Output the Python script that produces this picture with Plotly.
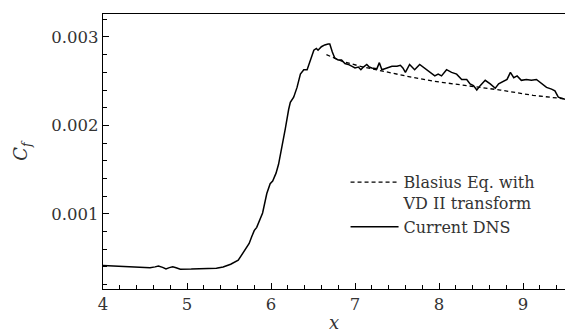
import plotly.graph_objects as go

dns_x = [4.00, 4.20, 4.40, 4.56, 4.62, 4.66, 4.71, 4.75, 4.79, 4.83, 4.87, 4.92, 5.05, 5.23, 5.35,
         5.43, 5.52, 5.61, 5.65, 5.69, 5.74, 5.77, 5.80, 5.83, 5.87, 5.90, 5.95, 5.99, 6.02, 6.06,
         6.09, 6.13, 6.17, 6.21, 6.23, 6.27, 6.31, 6.35, 6.39, 6.43, 6.46, 6.51, 6.54, 6.56, 6.60,
         6.64, 6.68, 6.70, 6.73, 6.76, 6.80, 6.84, 6.88, 6.92, 6.96, 7.00, 7.04, 7.07, 7.10, 7.14,
         7.17, 7.20, 7.26, 7.29, 7.32, 7.38, 7.44, 7.50, 7.54, 7.57, 7.60, 7.65, 7.71, 7.77, 7.83,
         7.89, 7.95, 7.99, 8.03, 8.09, 8.15, 8.21, 8.27, 8.33, 8.37, 8.41, 8.45, 8.49, 8.55, 8.61,
         8.67, 8.71, 8.77, 8.81, 8.85, 8.89, 8.93, 8.98, 9.04, 9.10, 9.16, 9.22, 9.28, 9.34, 9.38,
         9.42, 9.48, 9.52]
dns_cf = [0.000417, 0.000410, 0.000398, 0.000391, 0.000400, 0.000410, 0.000395, 0.000377, 0.000392,
          0.000402, 0.000390, 0.000374, 0.000375, 0.000377, 0.000385, 0.000399, 0.000430, 0.000475,
          0.000530, 0.000592, 0.000665, 0.000740, 0.000810, 0.000847, 0.000930, 0.001010, 0.001230,
          0.001340, 0.001370, 0.001460, 0.001560, 0.001740, 0.001960, 0.002180, 0.002260, 0.002320,
          0.002430, 0.002580, 0.002630, 0.002630, 0.002720, 0.002850, 0.002870, 0.002850, 0.002890,
          0.002910, 0.002920, 0.002920, 0.002830, 0.002760, 0.002740, 0.002740, 0.002700, 0.002690,
          0.002670, 0.002650, 0.002660, 0.002630, 0.002660, 0.002690, 0.002660, 0.002650, 0.002640,
          0.002710, 0.002630, 0.002650, 0.002670, 0.002670, 0.002680, 0.002650, 0.002600, 0.002690,
          0.002630, 0.002690, 0.002650, 0.002610, 0.002560, 0.002580, 0.002560, 0.002630, 0.002600,
          0.002580, 0.002520, 0.002520, 0.002470, 0.002450, 0.002400, 0.002450, 0.002510, 0.002470,
          0.002420, 0.002470, 0.002500, 0.002520, 0.002600, 0.002540, 0.002560, 0.002510, 0.002520,
          0.002510, 0.002520, 0.002470, 0.002430, 0.002410, 0.002390, 0.002320, 0.002300, 0.002290]

blasius_x = [6.66, 6.86, 7.10, 7.34, 7.60, 7.93, 8.33, 8.73, 9.12, 9.50]
blasius_cf = [0.00280, 0.00272, 0.00266, 0.00261, 0.00256, 0.00250, 0.00245, 0.00240, 0.00234, 0.00230]

x_ticks = [4, 5, 6, 7, 8, 9]
y_ticks = [0.001, 0.002, 0.003]
y_ticklabels = ["0.001", "0.002", "0.003"]

FONT = "DejaVu Serif"

fig = go.Figure()
fig.add_trace(go.Scatter(
    x=blasius_x, y=blasius_cf, mode="lines",
    name="Blasius Eq. with<br>VD II transform",
    line=dict(color="black", width=1.3, dash="4px,3px"),
))
fig.add_trace(go.Scatter(
    x=dns_x, y=dns_cf, mode="lines", name="Current DNS",
    line=dict(color="black", width=1.5),
))

fig.update_layout(
    width=565, height=333,
    margin=dict(l=103, r=0, t=14, b=35),
    paper_bgcolor="white", plot_bgcolor="white",
    font=dict(family=FONT, size=16.5, color="#333"),
    showlegend=True,
    legend=dict(x=0.525, y=0.45, xanchor="left", yanchor="top",
                bgcolor="rgba(0,0,0,0)", font=dict(size=16, family=FONT),
                valign="top", tracegroupgap=4, itemwidth=48),
    xaxis=dict(
        range=[4, 9.5], tickvals=x_ticks, ticks="inside", ticklen=6, tickwidth=1,
        tickcolor="black", showline=True, linecolor="black", linewidth=1.3,
        mirror=True, showgrid=False, zeroline=False,
        minor=dict(dtick=0.2, ticks="inside", ticklen=3.5, tickwidth=1, tickcolor="black"),
        title=dict(text="<i>x</i>", font=dict(size=18, family=FONT), standoff=6),
    ),
    yaxis=dict(
        range=[0.00015, 0.00326], tickvals=y_ticks, ticktext=y_ticklabels,
        ticks="inside", ticklen=6, tickwidth=1, tickcolor="black",
        showline=True, linecolor="black", linewidth=1.3, showgrid=False, zeroline=False,
        minor=dict(dtick=0.0002, ticks="inside", ticklen=3.5, tickwidth=1, tickcolor="black"),
        title=dict(text="<i>C</i><sub><i>f</i></sub>", font=dict(size=18, family=FONT), standoff=18),
    ),
)

fig.write_html("out.html")
